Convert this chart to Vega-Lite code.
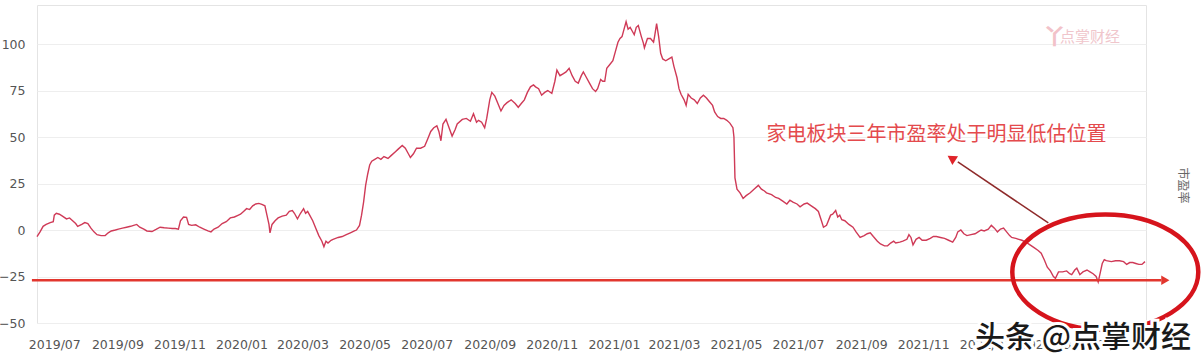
{
  "$schema": "https://vega.github.io/schema/vega-lite/v6.json",
  "width": 1109,
  "height": 318,
  "autosize": {"type": "none"},
  "padding": {"left": 37, "top": 5, "right": 58, "bottom": 39},
  "background": "white",
  "config": {
    "view": {"stroke": "#e4e4e4"},
    "axis": {"labelFont": "DejaVu Sans", "labelFontSize": 12.5, "labelColor": "#555555"}
  },
  "datasets": {
    "pe": [
      {"d":"2019-06-14","v":-3.5},{"d":"2019-06-17","v":-1},{"d":"2019-06-20","v":2},{"d":"2019-06-23","v":3},{"d":"2019-06-27","v":4},{"d":"2019-06-30","v":4.5},
      {"d":"2019-07-01","v":8},{"d":"2019-07-03","v":9},{"d":"2019-07-06","v":8.5},{"d":"2019-07-09","v":7.5},{"d":"2019-07-13","v":6},{"d":"2019-07-16","v":6.5},{"d":"2019-07-19","v":5},{"d":"2019-07-22","v":3.5},{"d":"2019-07-24","v":2},{"d":"2019-07-28","v":3},{"d":"2019-07-31","v":4},
      {"d":"2019-08-03","v":3.5},{"d":"2019-08-06","v":1},{"d":"2019-08-09","v":-1},{"d":"2019-08-12","v":-2.5},{"d":"2019-08-16","v":-3},{"d":"2019-08-20","v":-3},{"d":"2019-08-23","v":-1.5},{"d":"2019-08-26","v":-0.5},{"d":"2019-08-30","v":0},
      {"d":"2019-09-02","v":0.5},{"d":"2019-09-06","v":1},{"d":"2019-09-10","v":1.5},{"d":"2019-09-14","v":2},{"d":"2019-09-17","v":2.5},{"d":"2019-09-20","v":3},{"d":"2019-09-23","v":1.5},{"d":"2019-09-27","v":0.5},{"d":"2019-09-30","v":-0.5},
      {"d":"2019-10-05","v":-0.8},{"d":"2019-10-09","v":0.3},{"d":"2019-10-13","v":1.5},{"d":"2019-10-17","v":1.2},{"d":"2019-10-21","v":1},{"d":"2019-10-25","v":0.8},{"d":"2019-10-28","v":0.8},{"d":"2019-10-31","v":0.5},
      {"d":"2019-11-02","v":5},{"d":"2019-11-05","v":7},{"d":"2019-11-08","v":6.8},{"d":"2019-11-10","v":3},{"d":"2019-11-13","v":2.5},{"d":"2019-11-17","v":2.8},{"d":"2019-11-21","v":1.5},{"d":"2019-11-25","v":0.5},{"d":"2019-11-29","v":-0.5},
      {"d":"2019-12-02","v":-1},{"d":"2019-12-05","v":0.5},{"d":"2019-12-09","v":1.5},{"d":"2019-12-13","v":3.5},{"d":"2019-12-17","v":4.5},{"d":"2019-12-21","v":6.5},{"d":"2019-12-25","v":7},{"d":"2019-12-28","v":7.8},{"d":"2019-12-31","v":8.5},
      {"d":"2020-01-03","v":10},{"d":"2020-01-06","v":11.5},{"d":"2020-01-09","v":11},{"d":"2020-01-12","v":13},{"d":"2020-01-15","v":14},{"d":"2020-01-18","v":14.3},{"d":"2020-01-21","v":13.8},{"d":"2020-01-24","v":13},{"d":"2020-01-26","v":8},{"d":"2020-01-28","v":3},{"d":"2020-01-29","v":-1.5},{"d":"2020-01-31","v":3},
      {"d":"2020-02-03","v":5},{"d":"2020-02-06","v":6.5},{"d":"2020-02-10","v":7.5},{"d":"2020-02-14","v":8},{"d":"2020-02-17","v":10},{"d":"2020-02-20","v":10.5},{"d":"2020-02-22","v":9},{"d":"2020-02-25","v":6},{"d":"2020-02-28","v":9},
      {"d":"2020-03-02","v":11.5},{"d":"2020-03-04","v":9},{"d":"2020-03-06","v":10},{"d":"2020-03-08","v":8},{"d":"2020-03-11","v":5},{"d":"2020-03-14","v":1},{"d":"2020-03-17","v":-3},{"d":"2020-03-20","v":-6},{"d":"2020-03-22","v":-9},{"d":"2020-03-24","v":-6},{"d":"2020-03-26","v":-7},{"d":"2020-03-29","v":-5.5},{"d":"2020-03-31","v":-5},
      {"d":"2020-04-05","v":-4},{"d":"2020-04-09","v":-3.5},{"d":"2020-04-13","v":-2.5},{"d":"2020-04-17","v":-1.5},{"d":"2020-04-21","v":-0.5},{"d":"2020-04-23","v":0},{"d":"2020-04-26","v":2.5},{"d":"2020-04-28","v":8},{"d":"2020-04-30","v":15},
      {"d":"2020-05-02","v":24},{"d":"2020-05-04","v":30},{"d":"2020-05-06","v":35},{"d":"2020-05-08","v":37},{"d":"2020-05-11","v":38},{"d":"2020-05-14","v":39},{"d":"2020-05-17","v":38},{"d":"2020-05-20","v":39.5},{"d":"2020-05-24","v":38.5},{"d":"2020-05-27","v":40},{"d":"2020-05-31","v":42},
      {"d":"2020-06-03","v":43.5},{"d":"2020-06-07","v":45.5},{"d":"2020-06-10","v":44},{"d":"2020-06-13","v":41},{"d":"2020-06-15","v":39},{"d":"2020-06-18","v":41},{"d":"2020-06-21","v":44},{"d":"2020-06-25","v":44},{"d":"2020-06-29","v":45},
      {"d":"2020-07-02","v":49},{"d":"2020-07-05","v":53},{"d":"2020-07-08","v":55},{"d":"2020-07-11","v":56},{"d":"2020-07-13","v":53},{"d":"2020-07-15","v":48},{"d":"2020-07-17","v":57},{"d":"2020-07-20","v":59.5},{"d":"2020-07-23","v":55},{"d":"2020-07-26","v":50.5},{"d":"2020-07-29","v":54},{"d":"2020-07-31","v":57},
      {"d":"2020-08-05","v":59.5},{"d":"2020-08-09","v":60},{"d":"2020-08-13","v":58.5},{"d":"2020-08-16","v":62.5},{"d":"2020-08-19","v":58},{"d":"2020-08-21","v":59},{"d":"2020-08-24","v":58},{"d":"2020-08-27","v":55},{"d":"2020-08-29","v":60},
      {"d":"2020-09-01","v":70},{"d":"2020-09-03","v":74},{"d":"2020-09-06","v":72},{"d":"2020-09-09","v":68},{"d":"2020-09-12","v":64},{"d":"2020-09-15","v":67},{"d":"2020-09-18","v":68.5},{"d":"2020-09-22","v":70},{"d":"2020-09-26","v":68},{"d":"2020-09-29","v":66},
      {"d":"2020-10-02","v":68},{"d":"2020-10-05","v":70},{"d":"2020-10-08","v":74},{"d":"2020-10-11","v":77},{"d":"2020-10-14","v":78},{"d":"2020-10-16","v":77},{"d":"2020-10-19","v":76},{"d":"2020-10-22","v":72.5},{"d":"2020-10-25","v":74},{"d":"2020-10-28","v":75},
      {"d":"2020-11-01","v":73.5},{"d":"2020-11-04","v":80},{"d":"2020-11-06","v":86},{"d":"2020-11-09","v":83},{"d":"2020-11-12","v":84},{"d":"2020-11-15","v":85},{"d":"2020-11-18","v":87},{"d":"2020-11-21","v":83},{"d":"2020-11-24","v":80},{"d":"2020-11-27","v":79},{"d":"2020-11-30","v":83},
      {"d":"2020-12-02","v":85},{"d":"2020-12-05","v":82},{"d":"2020-12-08","v":79},{"d":"2020-12-11","v":76},{"d":"2020-12-14","v":74.5},{"d":"2020-12-16","v":76},{"d":"2020-12-19","v":81},{"d":"2020-12-21","v":80},{"d":"2020-12-23","v":80},{"d":"2020-12-25","v":87},{"d":"2020-12-28","v":89},{"d":"2020-12-31","v":91},
      {"d":"2021-01-03","v":97},{"d":"2021-01-05","v":101},{"d":"2021-01-07","v":103},{"d":"2021-01-09","v":104},{"d":"2021-01-11","v":108},{"d":"2021-01-13","v":112},{"d":"2021-01-15","v":108},{"d":"2021-01-17","v":109},{"d":"2021-01-19","v":107},{"d":"2021-01-21","v":105},{"d":"2021-01-23","v":109},{"d":"2021-01-25","v":110},{"d":"2021-01-28","v":104},{"d":"2021-01-30","v":100.5},{"d":"2021-01-31","v":98},
      {"d":"2021-02-03","v":103},{"d":"2021-02-06","v":103},{"d":"2021-02-09","v":101},{"d":"2021-02-10","v":104},{"d":"2021-02-12","v":111},{"d":"2021-02-14","v":104},{"d":"2021-02-16","v":95},{"d":"2021-02-18","v":92},{"d":"2021-02-21","v":91},{"d":"2021-02-24","v":92},{"d":"2021-02-27","v":93},
      {"d":"2021-03-01","v":88},{"d":"2021-03-04","v":82},{"d":"2021-03-06","v":76},{"d":"2021-03-08","v":73},{"d":"2021-03-11","v":70},{"d":"2021-03-13","v":67},{"d":"2021-03-15","v":73},{"d":"2021-03-18","v":71},{"d":"2021-03-21","v":70},{"d":"2021-03-24","v":68},{"d":"2021-03-27","v":71},{"d":"2021-03-30","v":72.5},
      {"d":"2021-04-02","v":71},{"d":"2021-04-05","v":69},{"d":"2021-04-08","v":67},{"d":"2021-04-10","v":63.5},{"d":"2021-04-13","v":61},{"d":"2021-04-16","v":60},{"d":"2021-04-19","v":60},{"d":"2021-04-22","v":59},{"d":"2021-04-25","v":57.5},{"d":"2021-04-28","v":55},{"d":"2021-04-29","v":50},{"d":"2021-04-30","v":28},
      {"d":"2021-05-02","v":22},{"d":"2021-05-05","v":20},{"d":"2021-05-08","v":17},{"d":"2021-05-11","v":18.5},{"d":"2021-05-15","v":20},{"d":"2021-05-19","v":22},{"d":"2021-05-23","v":24},{"d":"2021-05-26","v":22},{"d":"2021-05-29","v":21},{"d":"2021-05-31","v":20},
      {"d":"2021-06-05","v":19},{"d":"2021-06-09","v":17.5},{"d":"2021-06-12","v":17},{"d":"2021-06-16","v":15.5},{"d":"2021-06-20","v":14},{"d":"2021-06-23","v":16},{"d":"2021-06-26","v":15},{"d":"2021-06-30","v":14},
      {"d":"2021-07-03","v":12.5},{"d":"2021-07-07","v":14},{"d":"2021-07-10","v":14.5},{"d":"2021-07-14","v":13},{"d":"2021-07-18","v":11.5},{"d":"2021-07-21","v":10},{"d":"2021-07-24","v":5},{"d":"2021-07-26","v":1.5},{"d":"2021-07-29","v":2.5},
      {"d":"2021-08-02","v":8},{"d":"2021-08-04","v":8.5},{"d":"2021-08-07","v":10.5},{"d":"2021-08-09","v":7},{"d":"2021-08-11","v":8},{"d":"2021-08-13","v":5.5},{"d":"2021-08-16","v":5},{"d":"2021-08-20","v":3},{"d":"2021-08-24","v":1.5},{"d":"2021-08-27","v":-1},{"d":"2021-08-31","v":-4},
      {"d":"2021-09-04","v":-3},{"d":"2021-09-07","v":-2},{"d":"2021-09-10","v":-1.5},{"d":"2021-09-13","v":-3.5},{"d":"2021-09-17","v":-6},{"d":"2021-09-20","v":-7.5},{"d":"2021-09-24","v":-8.5},{"d":"2021-09-27","v":-8.5},{"d":"2021-09-30","v":-7},
      {"d":"2021-10-03","v":-6},{"d":"2021-10-05","v":-7},{"d":"2021-10-09","v":-6.5},{"d":"2021-10-12","v":-6},{"d":"2021-10-16","v":-5},{"d":"2021-10-18","v":-2.5},{"d":"2021-10-20","v":-4},{"d":"2021-10-22","v":-8},{"d":"2021-10-25","v":-5},{"d":"2021-10-28","v":-4},{"d":"2021-10-31","v":-5.5},
      {"d":"2021-11-04","v":-5.5},{"d":"2021-11-08","v":-4.5},{"d":"2021-11-11","v":-3.5},{"d":"2021-11-14","v":-3.5},{"d":"2021-11-18","v":-4},{"d":"2021-11-22","v":-4.5},{"d":"2021-11-26","v":-5.5},{"d":"2021-11-30","v":-6.5},
      {"d":"2021-12-03","v":-4},{"d":"2021-12-05","v":-1},{"d":"2021-12-08","v":0},{"d":"2021-12-11","v":-2},{"d":"2021-12-14","v":-3},{"d":"2021-12-18","v":-2.5},{"d":"2021-12-22","v":-2},{"d":"2021-12-25","v":-1},{"d":"2021-12-28","v":0},{"d":"2021-12-31","v":-0.5},
      {"d":"2022-01-04","v":0.5},{"d":"2022-01-07","v":2.5},{"d":"2022-01-10","v":1},{"d":"2022-01-13","v":-1},{"d":"2022-01-16","v":0.5},{"d":"2022-01-19","v":1},{"d":"2022-01-22","v":-1},{"d":"2022-01-25","v":-3},{"d":"2022-01-27","v":-4},{"d":"2022-01-31","v":-4.5},
      {"d":"2022-02-03","v":-5},{"d":"2022-02-06","v":-5.5},{"d":"2022-02-10","v":-6.5},{"d":"2022-02-14","v":-8},{"d":"2022-02-18","v":-9.5},{"d":"2022-02-22","v":-11},{"d":"2022-02-25","v":-12.5},{"d":"2022-02-28","v":-16},
      {"d":"2022-03-03","v":-20},{"d":"2022-03-06","v":-22},{"d":"2022-03-09","v":-25},{"d":"2022-03-11","v":-26},{"d":"2022-03-14","v":-22.5},{"d":"2022-03-18","v":-22.5},{"d":"2022-03-22","v":-22},{"d":"2022-03-25","v":-23.5},{"d":"2022-03-27","v":-24},{"d":"2022-03-30","v":-21.5},
      {"d":"2022-04-01","v":-20.5},{"d":"2022-04-04","v":-24},{"d":"2022-04-07","v":-22.5},{"d":"2022-04-11","v":-21.5},{"d":"2022-04-14","v":-22.5},{"d":"2022-04-17","v":-23.5},{"d":"2022-04-20","v":-25},{"d":"2022-04-22","v":-28},{"d":"2022-04-24","v":-23},{"d":"2022-04-26","v":-18},{"d":"2022-04-28","v":-16},{"d":"2022-04-30","v":-16.5},
      {"d":"2022-05-05","v":-17},{"d":"2022-05-09","v":-16.5},{"d":"2022-05-13","v":-16.5},{"d":"2022-05-17","v":-17},{"d":"2022-05-20","v":-18.5},{"d":"2022-05-23","v":-17.5},{"d":"2022-05-26","v":-17.5},{"d":"2022-05-29","v":-18},
      {"d":"2022-06-01","v":-18.5},{"d":"2022-06-04","v":-18.5},{"d":"2022-06-07","v":-17}
    ],
    "one": [{}]
  },
  "layer": [
    {
      "data": {"name": "pe"},
      "mark": {"type": "line", "color": "#cf3a57", "strokeWidth": 1.4},
      "encoding": {
        "x": {
          "field": "d", "type": "temporal",
          "scale": {"type": "utc", "domain": [{"year": 2019, "month": 6, "date": 14, "utc": true}, {"year": 2022, "month": 6, "date": 8, "utc": true}]},
          "axis": {"format": "%Y/%m", "tickCount": {"interval": "month", "step": 2}, "labelOverlap": false, "labelFlush": false, "grid": false, "domain": false, "ticks": false, "labelPadding": 15, "title": null}
        },
        "y": {
          "field": "v", "type": "quantitative",
          "scale": {"domain": [-50, 121], "nice": false, "zero": false},
          "axis": {"values": [-50, -25, 0, 25, 50, 75, 100], "grid": true, "gridColor": "#eeeeee", "domain": false, "ticks": false, "labelPadding": 12, "title": null}
        }
      }
    },
    {
      "data": {"name": "one"},
      "mark": {"type": "rule", "color": "#e2362e", "strokeWidth": 2.5},
      "encoding": {
        "x": {"datum": {"year": 2019, "month": 6, "date": 9, "utc": true}, "type": "temporal"},
        "x2": {"datum": {"year": 2022, "month": 6, "date": 23, "utc": true}},
        "y": {"datum": -27, "type": "quantitative"}
      }
    },
    {
      "data": {"name": "one"},
      "mark": {"type": "point", "shape": "triangle-right", "filled": true, "color": "#e2362e", "size": 90, "opacity": 1},
      "encoding": {
        "x": {"datum": {"year": 2022, "month": 6, "date": 27, "utc": true}, "type": "temporal"},
        "y": {"datum": -27, "type": "quantitative"}
      }
    },
    {
      "data": {"name": "one"},
      "mark": {"type": "rule", "color": "#8e2a2a", "strokeWidth": 1.5},
      "encoding": {
        "x": {"datum": {"year": 2022, "month": 3, "date": 4, "utc": true}, "type": "temporal"},
        "x2": {"datum": {"year": 2021, "month": 12, "date": 5, "utc": true}},
        "y": {"datum": 3.8, "type": "quantitative"},
        "y2": {"datum": 36.6}
      }
    },
    {
      "data": {"name": "one"},
      "mark": {"type": "point", "shape": "triangle", "angle": 303, "filled": true, "color": "#e0242a", "size": 110, "opacity": 1},
      "encoding": {
        "x": {"datum": {"year": 2021, "month": 11, "date": 30, "utc": true}, "type": "temporal"},
        "y": {"datum": 38.2, "type": "quantitative"}
      }
    },
    {
      "data": {"name": "one"},
      "mark": {"type": "point", "shape": "M -1 0 A 1 0.62 0 1 0 1 0 A 1 0.62 0 1 0 -1 0 Z", "filled": false, "color": "#d6141c", "strokeWidth": 4.5, "size": 34596, "opacity": 1},
      "encoding": {
        "x": {"datum": {"year": 2022, "month": 4, "date": 29, "utc": true}, "type": "temporal"},
        "y": {"datum": -22.6, "type": "quantitative"}
      }
    },
    {
      "data": {"name": "one"},
      "mark": {"type": "text", "text": "家电板块三年市盈率处于明显低估位置", "font": "Noto Sans CJK SC", "fontSize": 20, "color": "#e44a4d", "align": "center", "baseline": "middle"},
      "encoding": {
        "x": {"datum": {"year": 2021, "month": 11, "date": 14, "utc": true}, "type": "temporal"},
        "y": {"datum": 51, "type": "quantitative"}
      }
    },
    {
      "data": {"name": "one"},
      "mark": {"type": "text", "text": "市盈率", "font": "Noto Sans CJK SC", "fontSize": 12, "color": "#666666", "angle": 90, "align": "center", "baseline": "middle"},
      "encoding": {
        "x": {"datum": {"year": 2022, "month": 7, "date": 14, "utc": true}, "type": "temporal"},
        "y": {"datum": 24, "type": "quantitative"}
      }
    },
    {
      "data": {"name": "one"},
      "mark": {"type": "text", "text": "丫", "font": "Noto Sans CJK SC", "fontSize": 22, "fontWeight": "bold", "color": "#f2c2c9", "align": "center", "baseline": "middle"},
      "encoding": {
        "x": {"datum": {"year": 2022, "month": 3, "date": 10, "utc": true}, "type": "temporal"},
        "y": {"datum": 104, "type": "quantitative"}
      }
    },
    {
      "data": {"name": "one"},
      "mark": {"type": "text", "text": "点掌财经", "font": "Noto Sans CJK SC", "fontSize": 15, "color": "#f0c6cc", "align": "center", "baseline": "middle"},
      "encoding": {
        "x": {"datum": {"year": 2022, "month": 4, "date": 14, "utc": true}, "type": "temporal"},
        "y": {"datum": 104, "type": "quantitative"}
      }
    },
    {
      "data": {"name": "one"},
      "mark": {"type": "text", "text": "头条 @点掌财经", "font": "Noto Sans CJK SC", "fontSize": 30, "fontWeight": 500, "color": "white", "stroke": "white", "strokeWidth": 6, "align": "center", "baseline": "middle"},
      "encoding": {
        "x": {"datum": {"year": 2022, "month": 4, "date": 7, "utc": true}, "type": "temporal"},
        "y": {"datum": -58, "type": "quantitative"}
      }
    },
    {
      "data": {"name": "one"},
      "mark": {"type": "text", "text": "头条 @点掌财经", "font": "Noto Sans CJK SC", "fontSize": 30, "fontWeight": 500, "color": "#1a1a1a", "align": "center", "baseline": "middle"},
      "encoding": {
        "x": {"datum": {"year": 2022, "month": 4, "date": 7, "utc": true}, "type": "temporal"},
        "y": {"datum": -58, "type": "quantitative"}
      }
    }
  ]
}
